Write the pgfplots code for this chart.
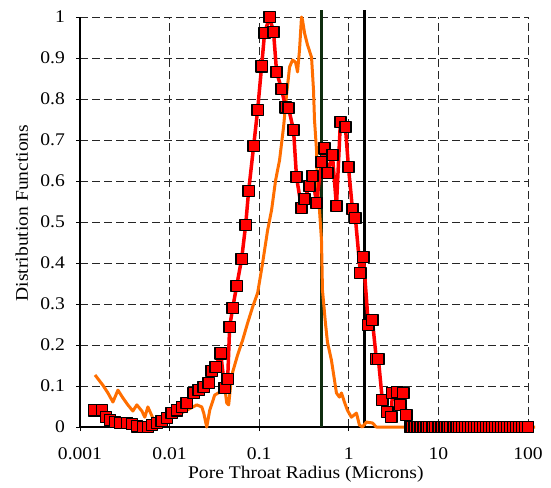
\documentclass[border=0pt]{standalone}
\usepackage{fontspec}
\setmainfont{Liberation Serif}[FakeStretch=1.1]
\usepackage{pgfplots}
\pgfplotsset{compat=1.18}
\definecolor{myred}{RGB}{255,0,0}
\definecolor{myorange}{RGB}{255,110,0}
\definecolor{vgreen}{RGB}{15,45,15}
\begin{document}
\fontsize{17.8}{21}\selectfont
\begin{tikzpicture}
\begin{axis}[
  scale only axis, width=448pt, height=410pt,
  xmode=log, log basis x=10, xmin=0.001, xmax=100, ymin=0, ymax=1,
  axis x line=bottom, axis y line=left,
  axis line style={-, line width=1.3pt, black},
  xtick={0.001,0.01,0.1,1,10,100},
  xticklabels={0.001,0.01,0.1,1,10,100},
  ytick={0,0.1,0.2,0.3,0.4,0.5,0.6,0.7,0.8,0.9,1},
  yticklabels={0,0.1,0.2,0.3,0.4,0.5,0.6,0.7,0.8,0.9,1},
  xminorticks=false, yminorticks=false,
  tick align=outside, major tick length=4pt,
  tick style={black, line width=1pt},
  grid=major,
  major grid style={dash pattern=on 8pt off 4pt, black!85, line width=0.8pt},
  clip=false,
  tick label style={font=\fontsize{17.8}{21}\selectfont},
  label style={font=\fontsize{17.8}{21}\selectfont},
  xlabel={Pore Throat Radius (Microns)},
  ylabel={Distribution Functions},
  xlabel style={at={(axis description cs:0.504,-0.114)}, anchor=center},
  ylabel style={at={(axis description cs:-0.13,0.522)}, anchor=center},
  yticklabel style={xshift=-5pt},
  xticklabel style={yshift=-11pt},
]
\path (rel axis cs:-0.1786,-0.1463) rectangle (rel axis cs:1.0513,1.0415);

\addplot[vgreen, line width=3.2pt] coordinates {(0.5,0) (0.5,1.017)};
\addplot[black, line width=3.4pt] coordinates {(1.5,0) (1.5,1.017)};

\addplot[myorange, line width=3pt, line join=round] table {
0.00147 0.127
0.00180 0.102
0.00205 0.083
0.00233 0.061
0.00265 0.090
0.00301 0.071
0.00342 0.054
0.00389 0.039
0.00431 0.054
0.00490 0.039
0.00529 0.024
0.00572 0.049
0.00650 0.022
0.00739 0.017
0.00931 0.022
0.01203 0.029
0.01555 0.041
0.02009 0.054
0.02285 0.049
0.02404 0.034
0.02596 0.000
0.02805 0.041
0.03187 0.078
0.03624 0.085
0.04119 0.098
0.04336 0.059
0.04562 0.054
0.04804 0.102
0.05055 0.134
0.05745 0.176
0.06533 0.212
0.07430 0.254
0.0845 0.293
0.0960 0.327
0.1091 0.400
0.1241 0.480
0.1374 0.529
0.1524 0.602
0.1687 0.651
0.1870 0.732
0.2018 0.810
0.2182 0.878
0.2355 0.895
0.2542 0.890
0.2679 0.866
0.2818 0.920
0.2965 1.000
0.3041 0.993
0.3206 0.961
0.3459 0.932
0.3837 0.902
0.4036 0.822
0.4140 0.749
0.4359 0.676
0.4468 0.585
0.4706 0.529
0.4955 0.456
0.5082 0.334
0.5483 0.254
0.5776 0.207
0.6398 0.163
0.7278 0.083
0.7853 0.073
0.8276 0.083
0.8931 0.061
0.9643 0.041
1.069 0.024
1.216 0.034
1.312 0.005
1.416 0.000
1.570 0.012
1.832 0.010
2.029 0.000
3.95 0.000
120 0.000
};

\addplot[myred, line width=3.5pt, line join=round,
  mark=square*, mark size=5.6pt,
  mark options={fill=myred, draw=black, line width=1.4pt}] table {
0.00143 0.041
0.00176 0.041
0.00195 0.024
0.00216 0.017
0.00245 0.012
0.00279 0.010
0.00334 0.010
0.00379 0.007
0.00431 0.002
0.00503 0.000
0.00572 0.000
0.00634 0.005
0.00720 0.010
0.00818 0.015
0.00931 0.022
0.01057 0.034
0.01203 0.041
0.01368 0.049
0.01555 0.059
0.01859 0.083
0.02115 0.090
0.02404 0.098
0.02734 0.107
0.02951 0.137
0.03268 0.146
0.03716 0.180
0.04119 0.095
0.04446 0.117
0.04677 0.244
0.05055 0.290
0.05600 0.344
0.06368 0.410
0.07063 0.493
0.07621 0.576
0.08665 0.685
0.09597 0.773
0.1064 0.880
0.1148 0.961
0.1306 1.000
0.1446 0.963
0.1563 0.866
0.1775 0.824
0.1968 0.780
0.2125 0.778
0.2416 0.724
0.2608 0.610
0.2965 0.534
0.3206 0.556
0.3641 0.588
0.3936 0.612
0.4359 0.546
0.4955 0.646
0.5350 0.680
0.5776 0.620
0.6565 0.663
0.7278 0.539
0.8056 0.744
0.9162 0.732
0.9908 0.634
1.097 0.532
1.184 0.510
1.346 0.376
1.454 0.415
1.652 0.249
1.831 0.261
2.029 0.166
2.137 0.166
2.366 0.066
2.690 0.037
2.979 0.024
3.061 0.083
3.478 0.085
3.758 0.054
4.056 0.083
4.377 0.029
4.853 0.000
5.0 0
5.4 0
5.83 0
6.3 0
6.8 0
7.35 0
7.93 0
8.57 0
9.25 0
10.0 0
10.8 0
11.7 0
12.6 0
13.6 0
14.7 0
15.9 0
17.1 0
18.5 0
20.0 0
21.6 0
23.3 0
25.2 0
27.2 0
29.4 0
31.7 0
34.3 0
37.0 0
40.0 0
43.2 0
46.6 0
50.4 0
54.4 0
58.7 0
63.4 0
68.5 0
74.0 0
79.9 0
86.3 0
93.2 0
100 0
};
\end{axis}
\end{tikzpicture}
\end{document}
